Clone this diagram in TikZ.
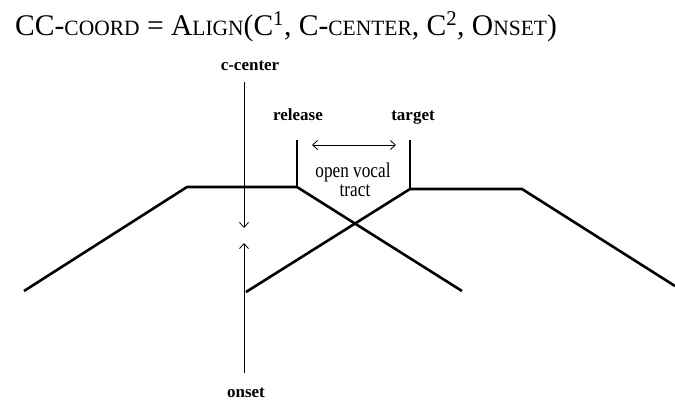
\documentclass[tikz,border=0pt]{standalone}
\usepackage{fontspec}
\setmainfont{Liberation Serif}
\usetikzlibrary{arrows.meta}
\newcommand\mysc[1]{{\fontsize{21.8}{22}\selectfont #1}}
\tikzset{mybarb/.tip={Straight Barb[length=5pt,width=9pt,line width=0.8pt]}}
\begin{document}
\begin{tikzpicture}[x=1pt,y=-1pt,
  thickline/.style={line width=2.6pt, line join=miter},
  thinline/.style={line width=0.9pt},
  lbl/.style={font=\fontsize{17}{19}\selectfont\bfseries, inner sep=0},
  txt/.style={font=\fontsize{21}{23}\selectfont, inner sep=0}]
\useasboundingbox (0,0) rectangle (675,402);
\fill[white] (0,0) rectangle (675,402);
% title
\node[anchor=base west, inner sep=0, font=\fontsize{30}{32}\selectfont] (title) at (15,35)
  {\scalebox{0.985}[1]{CC-\mysc{COORD} = A\mysc{LIGN}(C\textsuperscript{1}, C-\mysc{CENTER}, C\textsuperscript{2}, O\mysc{NSET})}};
% left gesture (C1)
\coordinate (l0) at (24,291);
\coordinate (l1) at (187,187);
\coordinate (l2) at (297,187);
\coordinate (l3) at (462,291);
\coordinate (rel) at (297,140);
\draw[thickline] (l0) -- (l1) -- (l2) -- (l3);
\draw[thickline] (rel) -- (l2);
% right gesture (C2)
\coordinate (r0) at (246,292);
\coordinate (r1) at (410,189);
\coordinate (r2) at (522,189);
\coordinate (r3) at (675,286);
\coordinate (tgt) at (410,140);
\draw[thickline] (r0) -- (r1) -- (r2) -- (r3);
\draw[thickline] (tgt) -- (r1);
% labels
\node[lbl, anchor=base] (release) at (298,120) {release};
\node[lbl, anchor=base] (target) at (413,120) {target};
\node[lbl, anchor=base] (ccenter) at (250,70) {c-center};
\node[lbl, anchor=base] (onset) at (246,397) {onset};
\node[txt, anchor=base] (open) at (353,177) {\scalebox{0.82}[1]{open vocal}};
\node[txt, anchor=base] (tract) at (355,196) {\scalebox{0.82}[1]{tract}};
% arrows
\coordinate (cc0) at (244,82);
\coordinate (cc1) at (244,228);
\coordinate (on0) at (244,373);
\coordinate (on1) at (244,243);
\draw[thinline, -mybarb] (cc0) -- (cc1);
\draw[thinline, -mybarb] (on0) -- (on1);
\coordinate (ov0) at (312,145);
\coordinate (ov1) at (396,145);
\draw[thinline, mybarb-mybarb] (ov0) -- (ov1);
\end{tikzpicture}
\end{document}
